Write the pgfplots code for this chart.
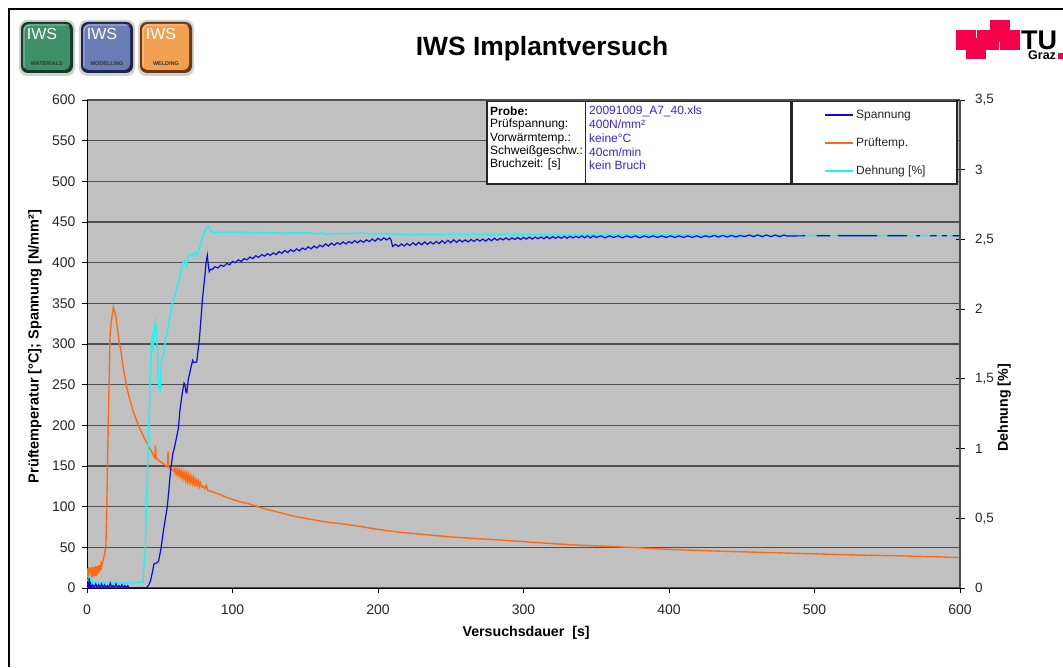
\documentclass[border=0pt]{standalone}
\usepackage{pgfplots}
\pgfplotsset{compat=1.18}
\usepackage{fontspec}
\setmainfont{Liberation Sans}
\definecolor{plotgrey}{HTML}{C0C0C0}
\definecolor{gridc}{HTML}{505050}
\definecolor{cblue}{HTML}{0A0AE6}
\definecolor{corange}{HTML}{FF6A10}
\definecolor{ccyan}{HTML}{1CF5F0}
\definecolor{infoblue}{HTML}{3A20F0}
\definecolor{tured}{HTML}{F5004A}
\definecolor{logog}{HTML}{3F8F6A}
\definecolor{logob}{HTML}{6A7DB5}
\definecolor{logoo}{HTML}{F0A050}
\definecolor{logogd}{HTML}{123A28}
\definecolor{logobd}{HTML}{1C2450}
\definecolor{logood}{HTML}{6A3A10}
\newcommand{\fs}[1]{\fontsize{#1}{#1}\selectfont}
\newcommand{\logo}[4]{%
  \fill[black,opacity=.18,rounded corners=8pt] (#1-3,20) rectangle (#1+53,76);
  \fill[#3,rounded corners=7pt] (#1-1,22) rectangle (#1+51,73);
  \fill[#2,rounded corners=6pt] (#1+1,24) rectangle (#1+48,70);
  \draw[white,opacity=.6,line width=.8pt,rounded corners=6pt] (#1+2,68) -- (#1+2,25) -- (#1+47,25);
  \node[text=white,inner sep=0] at (#1+20,33.5) {\fs{16}IWS};
  \node[text=black!80,inner sep=0,font=\fs{5.5}\bfseries] at (#1+25,63.5) {#4};
}
\begin{document}
\begin{tikzpicture}
\useasboundingbox (0,0) rectangle (1063pt,667pt);
\pgfplotsset{
  base/.style={
    scale only axis, width=873pt, height=488pt,
    at={(87pt,79pt)}, anchor=south west,
    xmin=0, xmax=600,
    /pgf/number format/assume math mode=true,
    /pgf/number format/1000 sep={},
    tick label style={font=\fs{14}, text=black!85},
  }
}
% primary axis: background, grid, temperature
\begin{axis}[base,
  axis background/.style={fill=plotgrey},
  ymin=0, ymax=600,
  axis x line*=bottom, axis y line*=left,
  axis line style={black,line width=1pt,-},
  xtick={0,100,200,300,400,500,600},
  ytick={0,50,100,150,200,250,300,350,400,450,500,550,600},
  ymajorgrids, grid style={gridc,line width=1.5pt},
  tick align=outside, major tick length=5pt,
  tick style={black,line width=.8pt},
  yticklabel style={xshift=-3pt},
  xticklabel style={yshift=-8pt},
  xlabel={\fs{14.2}\bfseries Versuchsdauer\ \ [s]},
  ylabel={\fs{14.5}\bfseries Prüftemperatur [°C]; Spannung [N/mm²]},
  every axis x label/.style={at={(axis description cs:0.503,-0.0922)},anchor=center},
  every axis y label/.style={at={(axis description cs:-0.0596,0.495)},anchor=center,rotate=90},
]
\addplot[corange,line width=1.4pt] table {
0 18
0.3 12
0.6 24
0.9 13
1.2 26
1.5 14
1.8 24
2.1 12
2.4 25
2.7 14
3 23
3.3 13
3.6 26
3.9 15
4.2 24
4.5 14
4.8 26
5.1 15
5.4 24
5.7 16
6 27
6.3 15
6.6 25
6.9 17
7.2 27
7.5 17
7.8 26
8.1 19
8.4 28
8.7 20
9 28
9.3 22
9.6 29
10 26
10.6 32
11.2 35
12 41
13 52
13.5 90
14 141
14.6 200
15.1 243
15.8 309
16.6 326
17.4 336
18.1 345
18.5 342
19.2 340
20 331
20.8 321
22 304
23.2 293
25 270
27.3 247
29.5 231
31.8 217
34 206
36.4 196
39 186
42.1 175
44 169
46 162
46.7 160
47 175
47.4 161
49 157
52.4 153
55 149
55.4 150
55.7 168
56 148
57 147
59.3 144
60 147
60.6 141
61.2 146
61.8 140
62.4 145
63 139
63.6 144
64.2 138
64.8 143
65.4 136
66 142
66.6 135
67.2 141
67.8 133
68.4 140
69 132
69.6 139
70.2 131
70.8 138
71.4 130
72 136
72.6 129
73.2 135
73.8 128
74.4 133
75 127
75.6 132
76.2 126
76.8 131
77.4 125
78 129
79 124
80 125
81 122
82 126
83 120
85 119
88 117
91.4 115
95 112
100 109
105 106
110 104
116 101
119 99
125 96
132 93
140 89
146 87
155 84
165 81
175 79
181 77.5
190 75
200 72
215 68.5
230 66
249 63
265 61
284 59
300 57
320 54.5
340 52.5
360 51
373 50
400 47.5
430 45.5
460 44
480 43
500 42
530 40.5
560 39.5
600 37.5
};
\end{axis}
% secondary axis: strain
\begin{axis}[base,
  ymin=0, ymax=3.5,
  axis x line=none, axis y line*=right,
  axis line style={black!70,line width=1.2pt,-},
  ytick={0,0.5,1,1.5,2,2.5,3,3.5},
  /pgf/number format/use comma,
  /pgf/number format/fixed,
  tick align=center, major tick length=9pt,
  tick style={black,line width=.8pt},
  yticklabel style={anchor=west,xshift=7pt,font=\fs{13.5}},
  ylabel={\fs{14.2}\bfseries Dehnung [\%]},
  every axis y label/.style={at={(axis description cs:1.0508,0.369)},anchor=center,rotate=90},
]
\addplot[ccyan,line width=1.5pt] table {
0 0.06
1 0.05
2 0.09
3 0.04
6 0.04
9 0.035
13 0.04
17 0.035
22 0.04
27 0.035
33 0.04
38.5 0.04
39 0.15
40 0.27
41 0.63
42.1 1.01
43.3 1.44
44.4 1.78
44.9 1.80
45.5 1.70
46 1.82
47 1.91
47.6 1.85
48.4 1.70
49 1.50
49.5 1.44
50 1.46
50.4 1.44
51.3 1.64
52.5 1.66
54 1.78
55.9 1.87
57.5 1.98
58.9 2.05
60.5 2.10
62.8 2.19
64.5 2.27
66.2 2.34
67 2.35
68.5 2.31
69.5 2.37
70.8 2.39
72 2.38
74.2 2.41
75.5 2.38
77 2.43
78.1 2.47
80 2.53
81.8 2.58
83.4 2.595
85 2.56
86.1 2.553
90 2.55
100 2.553
108 2.548
109 2.555
110 2.55
125 2.548
135 2.545
136 2.535
137 2.548
150 2.547
160 2.54
161 2.552
162 2.54
180 2.542
190 2.545
195 2.538
200 2.54
210 2.54
220 2.533
222 2.532
225 2.536
240 2.534
270 2.535
300 2.534
340 2.533
400 2.532
450 2.53
480 2.528
520 2.527
600 2.527
};
\end{axis}
% stress on top
\begin{axis}[base,
  ymin=0, ymax=600, hide axis, unbounded coords=jump,
]
\addplot[cblue,line width=1.2pt] table {
0 0
0.5 4
1 1
1.5 12
2 1
2.5 5
3 0.5
4 4
5 0.5
6 5
7 0.5
8 4
9 0.5
10 5
11 0.5
12 4
13 0.5
14 3
15 0.5
16 6
17 0.5
18 3
19 0.5
20 5
21 0.5
22 3
23 0.5
24 4
25 0.5
26 3
27 0.5
28 3
29 0.3
33 0.5
38 0.3
41 0.5
42.5 4
43.7 9
45 20
46 29.5
48 31
49.2 33
50.9 49
52.5 70
55.2 100
57.5 145
59 165
60.5 176
62.8 196
63.9 219
65.5 240
66.7 252
67.3 250
68 241
68.6 240
69.5 255
70.8 266
72.6 280
73.5 277
75.4 278
77.2 305
79.5 358
81.1 385
81.8 400
82.7 409
83.3 398
84 389
85 392
86 391.5
88 395
90 393.5
92 397
94 395.5
96 399
98 397.5
100 401.5
102 400
104 403.5
106 401.5
108 405
110 403.5
112 407
114 405
116 408.5
118 406.5
120 410
122 408
124 411
126 409
128 412
130 410
132 413.5
134 411.5
136 415
138 412.5
140 416
142 413.5
144 417
146 414.5
148 418
150 416
152 419.5
154 417
156 420.5
158 418
160 421.5
162 419.5
164 423
166 420.5
168 424
170 421.5
172 424.5
174 422.5
176 425.5
178 423
180 426
182 424
184 427
186 424.5
188 427.5
190 425
192 428
194 426
196 429
198 426.5
200 430
202 427.5
204 430.5
206 428
208 430.5
209 428
210 420
212 422.5
214 420
216 423
218 420.5
220 423.5
222 421
224 424.5
226 421.5
228 425
230 422
232 425.5
234 422.5
236 425.5
238 423
240 426
242 423.5
244 427
246 424
248 427.5
250 424.5
252 428
254 425
256 428
258 425.5
260 428
262 425.5
264 428.5
266 426
268 429
270 426.5
272 429
274 426.5
276 429.5
278 427
280 430
282 427.5
284 430
286 428
288 430.5
290 428
292 430.5
294 428.5
296 431
298 428.5
300 431
302 429
304 431.5
306 429
308 431.5
310 429.5
312 431.5
314 429.5
316 432
318 429.5
320 432
322 430
324 432
326 430
328 432.5
330 430
332 432.5
334 430.5
336 432.5
338 430.5
340 433
342 430.5
344 433
346 430.5
348 433
350 431
353 433
356 430.5
359 433
362 431
365 433
368 430.5
371 433
374 431
377 433
380 430.5
383 433
386 431
389 433
392 431
395 433
398 431
401 433
404 431
407 433
410 431
413 433
416 431
419 433
422 431
425 433
428 431.5
431 433.5
434 431.5
437 433.5
440 431.5
443 433.5
446 431.5
449 433.5
452 432
455 434
458 432
461 434
464 432
467 434
470 432
473 434
476 432
479 434
481 432.8
493.6 433
495 nan
501.5 433
510.7 433
513 nan
516 433
543 433
546 nan
550 433
563.6 433
566 nan
570 433
572.5 433
575 nan
579.4 433
584 433
586 nan
587.6 433
591 433
593 nan
595 433
600 433
};
\end{axis}
% page furniture, in reference pixels measured from the top left
\begin{scope}[x=1pt,y=-1pt,yshift=667pt]
  \draw[black,line width=2.6pt] (9,667) -- (9,9) -- (1063,9);
  \logo{22}{logog}{logogd}{MATERIALS}
  \logo{82}{logob}{logobd}{MODELLING}
  \logo{141}{logoo}{logood}{WELDING}
  \node[inner sep=0,font=\fs{26.4}\bfseries] at (542,48.5) {IWS Implantversuch};
  % TU Graz mark
  \fill[tured] (956,30) rectangle (1020,50);
  \fill[tured] (990,20) rectangle (1010,30);
  \fill[tured] (966,50) rectangle (986,59.5);
  \fill[white] (975.7,30) rectangle (976.4,38);
  \fill[white] (999,42) rectangle (999.7,50);
  \node[anchor=base west,inner sep=0,font=\fs{27}\bfseries] at (1021,50) {TU};
  \node[anchor=base west,inner sep=0,font=\fs{12.5}\bfseries] at (1028,60) {Graz};
  \fill[tured] (1058,53) rectangle (1063,59.5);
  % info box
  \draw[fill=white,draw=black!85,line width=1.1pt] (487,101.5) rectangle (585.5,184);
  \draw[fill=white,draw=black!85,line width=1.1pt] (585.5,101.5) rectangle (791,184);
  \draw[fill=white,draw=black!85,line width=1.1pt] (792.5,101.5) rectangle (957,184);
  \begin{scope}[every node/.style={anchor=west,inner sep=0,font=\fs{12}}]
    \node[font=\fs{12}\bfseries] at (490,111) {Probe:};
    \node at (490,124.7) {Prüfspannung:};
    \node at (490,138.3) {Vorwärmtemp.:};
    \node at (490,151.8) {Schweißgeschw.:};
    \node at (490,164.8) {Bruchzeit: [s]};
    \node[text=infoblue] at (589,111) {20091009\_A7\_40.xls};
    \node[text=infoblue] at (589,124.7) {400N/mm²};
    \node[text=infoblue] at (589,138.3) {keine°C};
    \node[text=infoblue] at (589,151.8) {40cm/min};
    \node[text=infoblue] at (589,164.8) {kein Bruch};
    \node[text=black!85] at (856,115.5) {Spannung};
    \node[text=black!85] at (856,143.5) {Prüftemp.};
    \node[text=black!85] at (856,171.5) {Dehnung [\%]};
  \end{scope}
  \draw[draw=cblue,line width=1.9pt] (825,115) -- (853,115);
  \draw[draw=corange,line width=1.9pt] (825,143) -- (853,143);
  \draw[draw=ccyan,line width=1.9pt] (825,171) -- (853,171);
\end{scope}
\end{tikzpicture}
\end{document}
